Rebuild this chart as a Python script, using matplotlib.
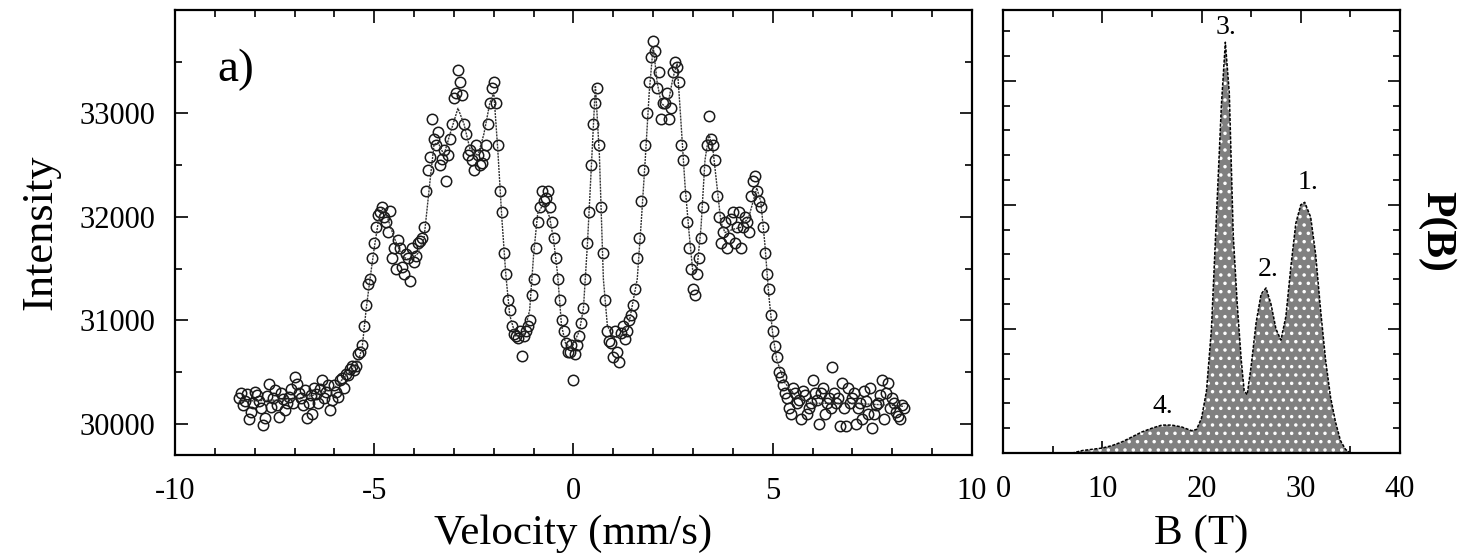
import numpy as np
import matplotlib
matplotlib.use("Agg")
import matplotlib.pyplot as plt
from matplotlib.ticker import MultipleLocator, FixedLocator

# --- Mossbauer spectrum: measured counts (two interleaved channel sets) ---
v_start_a = -8.4
counts_a = [
    30250, 30180, 30290, 30120, 30310, 30220, 29990, 30270, 30160, 30330,
    30070, 30240, 30200, 30340, 30450, 30300, 30180, 30060, 30280, 30350,
    30200, 30420, 30310, 30130, 30380, 30260, 30440, 30480, 30530, 30520,
    30680, 30760, 31150, 31400, 31750, 32020, 32100, 31950, 32060, 31700,
    31780, 31520, 31640, 31380, 31560, 31750, 31800, 32250, 32580, 32750,
    32820, 32560, 32350, 32750, 33150, 33420, 33180, 32800, 32650, 32450,
    32600, 32520, 32700, 33100, 33300, 32700, 32050, 31450, 31100, 30870,
    30830, 30660, 30900, 31000, 31400, 31950, 32250, 32180, 32100, 31800,
    31400, 31000, 30780, 30700, 30420, 30760, 30980, 31400, 32050, 32900,
    33250, 32100, 31200, 30800, 30650, 30700, 30880, 30820, 31000, 31150,
    31600, 32150, 32700, 33300, 33700, 33250, 32950, 33100, 32950, 33400,
    33450, 32700, 32200, 31700, 31300, 31450, 31800, 32450, 32980, 32700,
    32200, 31750, 31950, 31800, 32050, 31900, 31700, 32000, 31850, 32350,
    32250, 32100, 31650, 31300, 30900, 30650, 30450, 30300, 30150, 30350,
    30200, 30050, 30280, 30150, 30420, 30230, 30300, 30100, 30250, 30550,
    30200, 29980, 30150, 30350, 30250, 30000, 30200, 30320, 30100, 29960,
    30180, 30280, 30050, 30400, 30250, 30120, 30050, 30150,
]
v_start_b = -8.35
counts_b = [
    30300, 30220, 30050, 30200, 30280, 30150, 30060, 30390, 30250, 30180,
    30300, 30130, 30260, 30200, 30390, 30250, 30330, 30200, 30100, 30290,
    30340, 30250, 30380, 30230, 30310, 30420, 30350, 30470, 30560, 30560,
    30700, 30950, 31350, 31600, 31900, 32050, 32000, 31850, 31600, 31500,
    31700, 31450, 31600, 31700, 31620, 31770, 31900, 32450, 32950, 32700,
    32500, 32650, 32600, 32900, 33200, 33300, 32900, 32600, 32550, 32700,
    32500, 32600, 32900, 33250, 33100, 32250, 31650, 31200, 30950, 30850,
    30900, 30850, 30950, 31250, 31700, 32100, 32150, 32250, 31950, 31600,
    31200, 30900, 30700, 30760, 30680, 30850, 31120, 31750, 32500, 33100,
    32700, 31650, 30900, 30780, 30900, 30600, 30950, 30900, 31050, 31300,
    31800, 32450, 33000, 33550, 33600, 33400, 33100, 33200, 33050, 33500,
    33300, 32550, 31950, 31500, 31250, 31600, 32100, 32700, 32750, 32550,
    32000, 31850, 31700, 31980, 31750, 32050, 31900, 31950, 32200, 32400,
    32150, 31900, 31450, 31050, 30750, 30500, 30380, 30250, 30100, 30300,
    30230, 30320, 30100, 30200, 30300, 30000, 30350, 30200, 30150, 30300,
    30250, 30400, 29980, 30200, 30300, 30150, 30050, 30220, 30350, 30100,
    30200, 30420, 30300, 30150, 30200, 30080, 30180,
]

# --- fitted curve ---
fit_v = [-8.4, -7.5, -7.0, -6.5, -6.0, -5.6, -5.4, -5.3, -5.2, -5.1, -5.0, -4.9,
         -4.8, -4.7, -4.5, -4.3, -4.1, -3.9, -3.75, -3.6, -3.5, -3.4, -3.25,
         -3.1, -2.9, -2.75, -2.6, -2.4, -2.25, -2.1, -2.0, -1.9, -1.8, -1.7,
         -1.6, -1.45, -1.25, -1.1, -1.0, -0.9, -0.75, -0.6, -0.5, -0.4, -0.3,
         -0.2, -0.05, 0.15, 0.25, 0.35, 0.45, 0.55, 0.65, 0.75, 0.85, 1.0, 1.2,
         1.4, 1.6, 1.7, 1.8, 1.9, 2.0, 2.1, 2.2, 2.35, 2.5, 2.6, 2.7, 2.8, 2.9,
         3.0, 3.1, 3.2, 3.3, 3.4, 3.5, 3.6, 3.7, 3.8, 4.0, 4.2, 4.4, 4.6, 4.7,
         4.8, 4.9, 5.0, 5.1, 5.3, 5.6, 6.0, 7.0, 8.0, 8.3]
fit_I = [30220, 30230, 30240, 30280, 30350, 30510, 30600, 30750, 31120, 31420,
         31700, 31950, 32080, 32030, 31800, 31620, 31580, 31650, 31800, 32350,
         32700, 32720, 32600, 32800, 33050, 32900, 32660, 32590, 32800, 33100,
         33200, 32650, 32000, 31450, 31050, 30850, 30860, 31100, 31640, 32030,
         32130, 32000, 31780, 31450, 30950, 30780, 30730, 30900, 31120, 31740,
         32500, 33270, 32600, 31400, 30950, 30830, 30850, 30990, 31400, 31950,
         32550, 33200, 33650, 33300, 33100, 33050, 33350, 33480, 32900, 32300,
         31850, 31450, 31500, 31900, 32550, 32800, 32650, 32300, 31950, 31850,
         31880, 31900, 32000, 32280, 32150, 31750, 31250, 30870, 30620, 30400,
         30260, 30200, 30200, 30180, 30170]

# --- hyperfine field distribution ---
B = [0, 7, 7.5, 8, 9, 10, 11, 12, 13, 14, 15, 16, 17, 18, 19, 19.5, 20, 20.5,
     21, 21.5, 22, 22.4, 22.8, 23.2, 23.6, 24, 24.3, 24.6, 25, 25.5, 26, 26.5,
     27, 27.5, 28, 28.5, 29, 29.5, 30, 30.4, 31, 31.5, 32, 32.5, 33, 33.5, 34,
     34.5, 35, 40]
PB = [0, 0, 0.001, 0.002, 0.003, 0.004, 0.006, 0.009, 0.013, 0.017, 0.020,
      0.0225, 0.0225, 0.021, 0.018, 0.019, 0.028, 0.05, 0.10, 0.19, 0.28, 0.331,
      0.29, 0.175, 0.12, 0.075, 0.05, 0.047, 0.07, 0.105, 0.128, 0.133, 0.12,
      0.10, 0.091, 0.11, 0.15, 0.185, 0.200, 0.202, 0.19, 0.16, 0.115, 0.075,
      0.045, 0.025, 0.01, 0.003, 0, 0]
peak_labels = ["1.", "2.", "3.", "4."]
peak_pos = [(30.7, 0.213), (26.7, 0.143), (22.5, 0.338), (16.1, 0.032)]

serif = ["Liberation Serif", "DejaVu Serif"]
plt.rcParams["font.family"] = serif
plt.rcParams["axes.unicode_minus"] = False
plt.rcParams["hatch.linewidth"] = 1.3

fig = plt.figure(figsize=(14.72, 5.54), dpi=100)
ax1 = fig.add_axes([0.1189, 0.1787, 0.5414, 0.8033])
ax2 = fig.add_axes([0.6814, 0.1823, 0.2697, 0.7997])

va = v_start_a + 0.1 * np.arange(len(counts_a))
vb = v_start_b + 0.1 * np.arange(len(counts_b))
ax1.plot(fit_v, fit_I, color="#333333", lw=1.0, ls=(0, (1.5, 0.7)), zorder=3)
for vv, cc in ((va, counts_a), (vb, counts_b)):
    ax1.plot(vv, cc, ls="none", marker="o", ms=7.5, mfc="none",
             mec="#1a1a1a", mew=1.1, zorder=2)

ax1.set_xlim(-10, 10)
ax1.set_ylim(29700, 34000)
ax1.xaxis.set_major_locator(MultipleLocator(5))
ax1.xaxis.set_minor_locator(MultipleLocator(1))
ax1.yaxis.set_major_locator(FixedLocator([30000, 31000, 32000, 33000]))
ax1.yaxis.set_minor_locator(MultipleLocator(500))
ax1.set_xlabel("Velocity (mm/s)", fontsize=31)
ax1.xaxis.set_label_coords(0.5, -0.133)
ax1.set_ylabel("Intensity", fontsize=32, labelpad=14)
ax1.text(0.053, 0.865, "a)", transform=ax1.transAxes, fontsize=34,
         va="center", ha="left")

ax2.fill_between(B, PB, 0, facecolor="#808080", edgecolor="white",
                 hatch="..", linewidth=0, zorder=2)
ax2.plot(B, PB, color="black", lw=1.1, ls=(0, (2, 1)), zorder=3)
for lab, (bx, by) in zip(peak_labels, peak_pos):
    ax2.text(bx, by, lab, fontsize=20, ha="center", va="baseline")
ax2.set_xlim(0, 40)
ax2.set_ylim(0, 0.357)
ax2.xaxis.set_major_locator(MultipleLocator(10))
ax2.xaxis.set_minor_locator(MultipleLocator(5))
ax2.yaxis.set_major_locator(MultipleLocator(0.1))
ax2.yaxis.set_minor_locator(MultipleLocator(0.02))
ax2.set_xlabel("B (T)", fontsize=31)
ax2.xaxis.set_label_coords(0.5, -0.138)
ax2.yaxis.set_label_position("right")
ax2.set_ylabel("P(B)", fontsize=30, fontweight="bold", rotation=270,
               labelpad=40)

for ax in (ax1, ax2):
    for s in ax.spines.values():
        s.set_linewidth(1.6)
    ax.tick_params(which="both", direction="in", top=True, right=True,
                   labelsize=22, width=1.2, pad=16)
    ax.tick_params(which="major", length=9)
    ax.tick_params(which="minor", length=5)
ax1.tick_params(axis="y", pad=14)
ax2.tick_params(axis="y", which="both", labelleft=False)

fig.savefig("out.png", dpi=100)
